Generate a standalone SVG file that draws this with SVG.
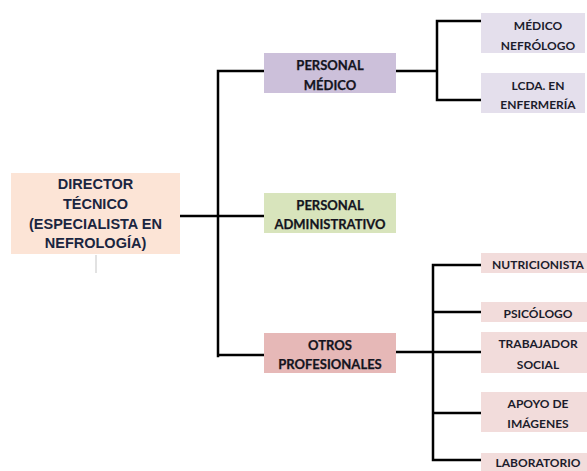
<svg xmlns="http://www.w3.org/2000/svg" width="587" height="471" viewBox="0 0 587 471">
<style>
.conn{fill:none;stroke:#000;stroke-width:2.5;stroke-linecap:square}
.dir{font-family:"Liberation Sans",Arial,sans-serif;font-weight:bold;font-size:14.5px;fill:#1a2540;text-anchor:middle}
.mid{font-family:Lato,"Liberation Sans",sans-serif;font-weight:bold;font-size:13px;fill:#141420;text-anchor:middle;stroke:#141420;stroke-width:0.25}
.leaf{font-family:Lato,"Liberation Sans",sans-serif;font-weight:bold;font-size:12px;fill:#1c1c2c;text-anchor:middle}
</style>
<rect width="587" height="471" fill="#fff"/>
<g id="connectors">
<path class="conn" d="M180 216H264M218 71V356M218 71H264M218 355H264"/>
<path class="conn" d="M396 71H437M437 21V100M437 21H481M437 100H481"/>
<path class="conn" d="M396 352H481M433 265V460M433 265H481M433 312H481M433 413H481M433 460H481"/>
<line x1="96" y1="255" x2="96" y2="273" stroke="#d9d9d9" stroke-width="1.5"/>
</g>
<g id="director">
<rect x="11" y="173" width="169" height="81" fill="#fce4d6"/>
<text class="dir" x="95.5" y="189">DIRECTOR</text>
<text class="dir" x="95.5" y="208.5">TÉCNICO</text>
<text class="dir" x="95.5" y="228.5">(ESPECIALISTA EN</text>
<text class="dir" x="95.5" y="248">NEFROLOGÍA)</text>
</g>
<g id="personal-medico">
<rect x="264" y="53" width="132" height="40" fill="#ccc0da"/>
<text class="mid" x="330" y="69.5">PERSONAL</text>
<text class="mid" x="330" y="89.5">MÉDICO</text>
</g>
<g id="personal-administrativo">
<rect x="264" y="193" width="132" height="40" fill="#d8e4bc"/>
<text class="mid" x="330" y="209.5">PERSONAL</text>
<text class="mid" x="330" y="228.5">ADMINISTRATIVO</text>
</g>
<g id="otros-profesionales">
<rect x="264" y="333" width="132" height="40" fill="#e6b8b7"/>
<text class="mid" x="330" y="349.5">OTROS</text>
<text class="mid" x="330" y="368.5">PROFESIONALES</text>
</g>
<g id="medico-nefrologo">
<rect x="481" y="13" width="104" height="40" fill="#e4dfec"/>
<text class="leaf" x="538" y="29.5">MÉDICO</text>
<text class="leaf" x="538" y="49.5">NEFRÓLOGO</text>
</g>
<g id="lcda-enfermeria">
<rect x="481" y="73" width="104" height="40" fill="#e4dfec"/>
<text class="leaf" x="538" y="89.5">LCDA. EN</text>
<text class="leaf" x="538" y="108.5">ENFERMERÍA</text>
</g>
<g id="nutricionista">
<rect x="481" y="253" width="106" height="20" fill="#f2dcdb"/>
<text class="leaf" x="538" y="268.5">NUTRICIONISTA</text>
</g>
<g id="psicologo">
<rect x="481" y="302" width="106" height="20" fill="#f2dcdb"/>
<text class="leaf" x="538" y="317.5">PSICÓLOGO</text>
</g>
<g id="trabajador-social">
<rect x="481" y="332" width="106" height="41" fill="#f2dcdb"/>
<text class="leaf" x="538" y="347.5">TRABAJADOR</text>
<text class="leaf" x="538" y="368.5">SOCIAL</text>
</g>
<g id="apoyo-imagenes">
<rect x="481" y="392" width="106" height="40" fill="#f2dcdb"/>
<text class="leaf" x="538" y="407.5">APOYO DE</text>
<text class="leaf" x="538" y="427.5">IMÁGENES</text>
</g>
<g id="laboratorio">
<rect x="481" y="453" width="106" height="20" fill="#f2dcdb"/>
<text class="leaf" x="538" y="466.5">LABORATORIO</text>
</g>
</svg>
